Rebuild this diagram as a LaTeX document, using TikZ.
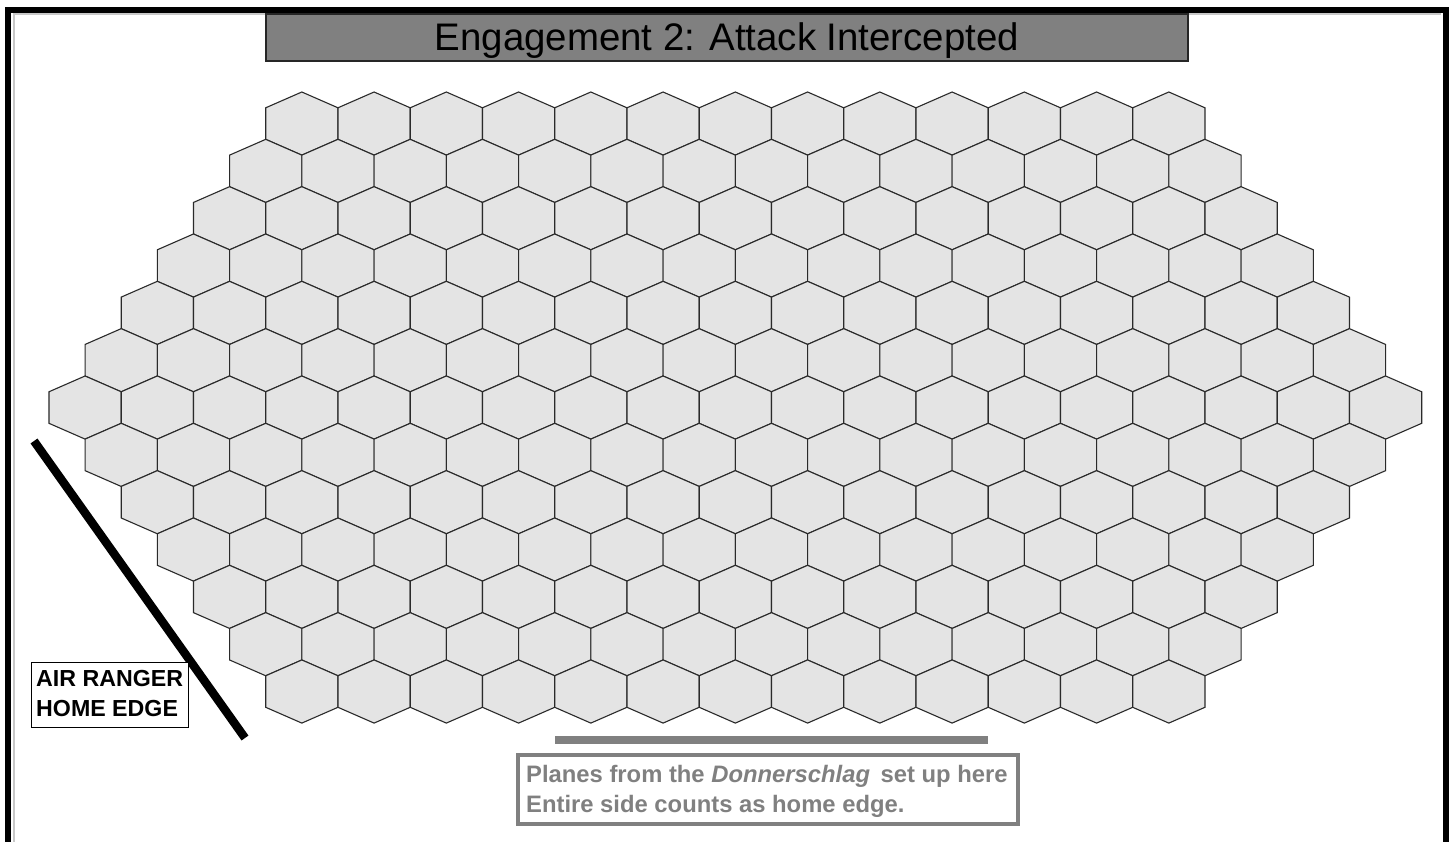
\documentclass[tikz,border=0pt]{standalone}
\usepackage{fontspec}
\setmainfont{Liberation Sans}
\definecolor{hexfill}{HTML}{E4E4E4}
\definecolor{hexline}{HTML}{2A2A2A}
\definecolor{midgray}{HTML}{808080}
\definecolor{lightshade}{HTML}{C8C8C8}
\begin{document}
\begin{tikzpicture}[x=1pt,y=-1pt,
  hexcell/.style={fill=hexfill,draw=hexline,line width=1.1pt,line join=miter},
  graytext/.style={text=midgray,font=\fontsize{23.8}{30}\selectfont\bfseries,inner sep=0pt,anchor=base west},
  blacktext/.style={text=black,font=\fontsize{23.2}{30}\selectfont\bfseries,inner sep=0pt,anchor=base west}]
\useasboundingbox (0,0) rectangle (1450,842);
\fill[white] (0,0) rectangle (1450,842);
% frame
\draw[lightshade,line width=2pt] (14,900) -- (14,14) -- (1441,14);
\draw[black,line width=6pt] (8,10) rectangle (1445.5,900);
% title bar
\node[fill=midgray,draw=black!85,line width=1.2pt,minimum width=922pt,minimum height=47pt,inner sep=0pt] (titlebar) at (727,37.5) {};
\node[inner sep=0pt,anchor=base,font=\fontsize{38.4}{40}\selectfont] (title) at (727,51) {Engagement 2: Attack Intercepted};
% hex grid
\foreach \r in {0,...,12}{
  \pgfmathtruncatemacro{\k}{min(\r,12-\r)}
  \pgfmathtruncatemacro{\n}{12+\k}
  \pgfmathsetmacro{\L}{265.7-36.125*\k}
  \pgfmathsetmacro{\T}{92+47.33*\r}
  \foreach \i in {0,...,\n}{
    \pgfmathsetmacro{\X}{\L+72.25*\i}
    \draw[hexcell] (\X,\T+15.8) -- ++(36.125,-15.8) -- ++(36.125,15.8) -- ++(0,31.53) -- ++(-36.125,15.8) -- ++(-36.125,-15.8) -- cycle;
  }
}
% air ranger home edge
\coordinate (edgeA) at (34,441);
\coordinate (edgeB) at (245,738);
\draw[black,line width=8.5pt] (edgeA) -- (edgeB);
\node[draw=black,fill=white,line width=1pt,minimum width=157.4pt,minimum height=64.6pt,inner sep=0pt] (arbox) at (110,695) {};
\node[blacktext] (ar1) at (36,686.7) {AIR RANGER};
\node[blacktext] (ar2) at (36,716.7) {HOME EDGE};
% donnerschlag edge
\coordinate (barA) at (555,740);
\coordinate (barB) at (988,740);
\draw[midgray,line width=8.6pt] (barA) -- (barB);
\node[draw=midgray,fill=white,line width=4pt,minimum width=500pt,minimum height=69pt,inner sep=0pt] (dbox) at (768,789.5) {};
\node[graytext] (d1) at (526,782) {Planes from the \textit{Donnerschlag}\/\ \,set up here};
\node[graytext] (d2) at (526,812) {Entire side counts as home edge.};
\end{tikzpicture}
\end{document}
